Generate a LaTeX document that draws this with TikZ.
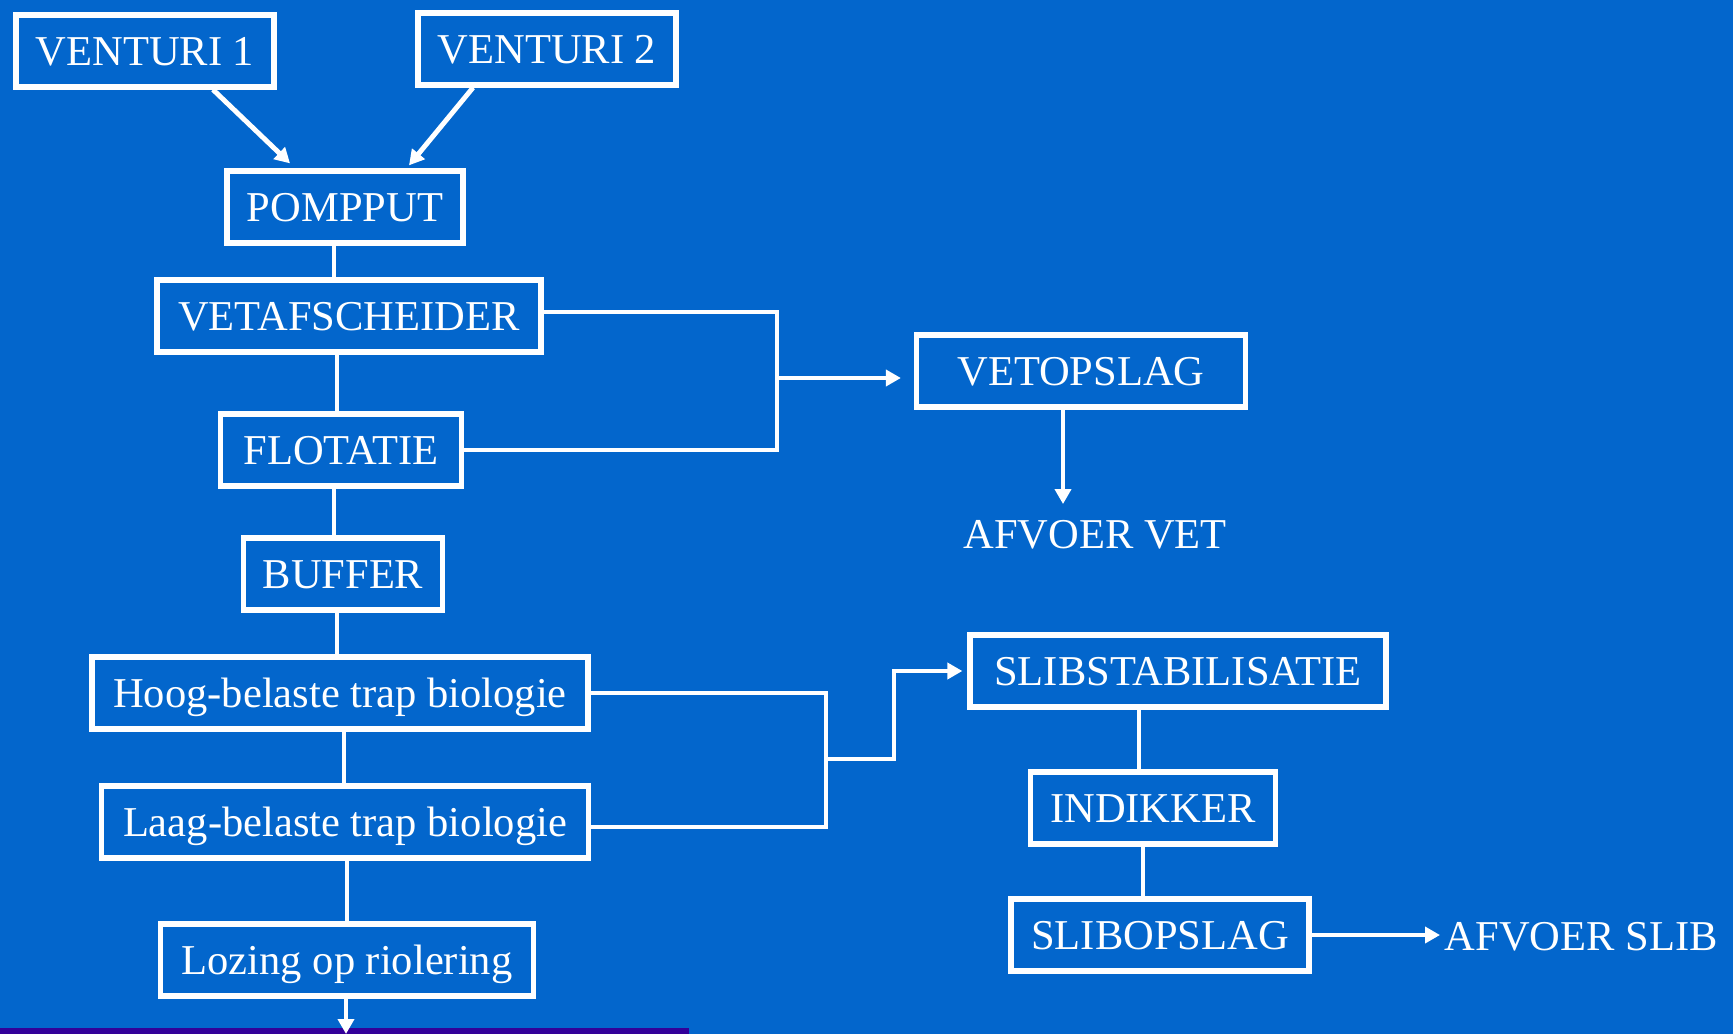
\documentclass[tikz,border=0pt]{standalone}
\usepackage{fontspec}
\setmainfont{Liberation Serif}
\usetikzlibrary{arrows.meta}
\definecolor{slidebg}{HTML}{0366CC}
\definecolor{slidebar}{HTML}{330099}

\begin{document}
\begin{tikzpicture}[
    font=\fontsize{12.1}{14}\selectfont,
    box/.style={draw=white, line width=1.5pt, text=white, minimum height=0.72cm,
                inner sep=0pt, text height=8.1pt, text depth=0pt},
    lbl/.style={text=white, inner sep=0pt, text height=8.1pt, text depth=0pt},
    link/.style={white, line width=1.4pt},
    arr/.style={white, line width=1.4pt, -{Triangle[length=1.5mm,width=1.6mm]}}
]
    % Background
    \fill[slidebg] (0,0) rectangle (17.33,-10.34);
    \fill[slidebar] (0,-10.28) rectangle (6.89,-10.34);
    \useasboundingbox (0,0) rectangle (17.33,-10.34);

    % Left column
    \node[box, minimum width=2.58cm] (ven1) at (1.45,-0.51) {VENTURI 1};
    \node[box, minimum width=2.58cm] (ven2) at (5.47,-0.49) {VENTURI 2};
    \node[box, minimum width=2.36cm] (pomp) at (3.45,-2.07) {POMPPUT};
    \node[box, minimum width=3.84cm] (vetaf) at (3.49,-3.16) {VETAFSCHEIDER};
    \node[box, minimum width=2.41cm] (flot) at (3.41,-4.50) {FLOTATIE};
    \node[box, minimum width=1.99cm] (buf) at (3.43,-5.74) {BUFFER};
    \node[box, minimum width=4.96cm] (hoog) at (3.40,-6.93) {Hoog-belaste trap biologie};
    \node[box, minimum width=4.87cm] (laag) at (3.45,-8.22) {Laag-belaste trap biologie};
    \node[box, minimum width=3.73cm] (lozing) at (3.47,-9.60) {Lozing op riolering};

    % Right column
    \node[box, minimum width=3.29cm] (vetop) at (10.81,-3.71) {VETOPSLAG};
    \node[lbl] (afvet) at (10.95,-5.34) {AFVOER VET};
    \node[box, minimum width=4.16cm] (slibst) at (11.78,-6.71) {SLIBSTABILISATIE};
    \node[box, minimum width=2.45cm] (indik) at (11.53,-8.08) {INDIKKER};
    \node[box, minimum width=2.98cm] (slibop) at (11.60,-9.35) {SLIBOPSLAG};
    \node[lbl, anchor=west] (afslib) at (14.44,-9.36) {AFVOER SLIB};

    % Junctions
    \coordinate (vj) at (7.77,-3.78);
    \coordinate (bj) at (8.26,-7.59);
    \coordinate (bk) at (8.94,-7.59);
    \coordinate (out) at (3.46,-10.34);

    % Venturis into the pit
    \draw[arr] ([xshift=6.8mm]ven1.south) -- ([xshift=-5.5mm,yshift=0.5mm]pomp.north);
    \draw[arr] ([xshift=-7.4mm]ven2.south) -- ([xshift=6.4mm,yshift=0.3mm]pomp.north);

    % Main line
    \draw[link] ([xshift=-1.1mm]pomp.south) -- ([xshift=-1.1mm]pomp.south |- vetaf.north);
    \draw[link] ([xshift=-1.2mm]vetaf.south) -- ([xshift=-1.2mm]vetaf.south |- flot.north);
    \draw[link] ([xshift=-0.7mm]flot.south) -- ([xshift=-0.7mm]flot.south |- buf.north);
    \draw[link] ([xshift=-0.6mm]buf.south) -- ([xshift=-0.6mm]buf.south |- hoog.north);
    \draw[link] ([xshift=0.4mm]hoog.south) -- ([xshift=0.4mm]hoog.south |- laag.north);
    \draw[link] ([xshift=0.2mm]laag.south) -- ([xshift=0.2mm]laag.south |- lozing.north);
    \draw[arr] (lozing.south -| out) -- (out);

    % Fat
    \draw[link] ([yshift=0.4mm]vetaf.east) -- ([yshift=0.4mm]vetaf.east -| vj) -- (flot.east -| vj) -- (flot.east);
    \draw[arr] (vj) -- ([xshift=-1.3mm]vetop.west |- vj);
    \draw[arr] ([xshift=-1.8mm]vetop.south) -- ([xshift=-1.8mm,yshift=1.5mm]vetop.south |- afvet.north);

    % Sludge
    \draw[link] (hoog.east) -- (hoog.east -| bj) -- ([yshift=-0.5mm]laag.east -| bj) -- ([yshift=-0.5mm]laag.east);
    \draw[arr] (bj) -- (bk) |- ([xshift=-0.5mm]slibst.west);
    \draw[link] ([xshift=-3.9mm]slibst.south) -- ([xshift=-3.9mm]slibst.south |- indik.north);
    \draw[link] ([xshift=-1.0mm]indik.south) -- ([xshift=-1.0mm]indik.south |- slibop.north);
    \draw[arr] (slibop.east) -- ([xshift=-0.4mm]afslib.west |- slibop.east);
\end{tikzpicture}
\end{document}
